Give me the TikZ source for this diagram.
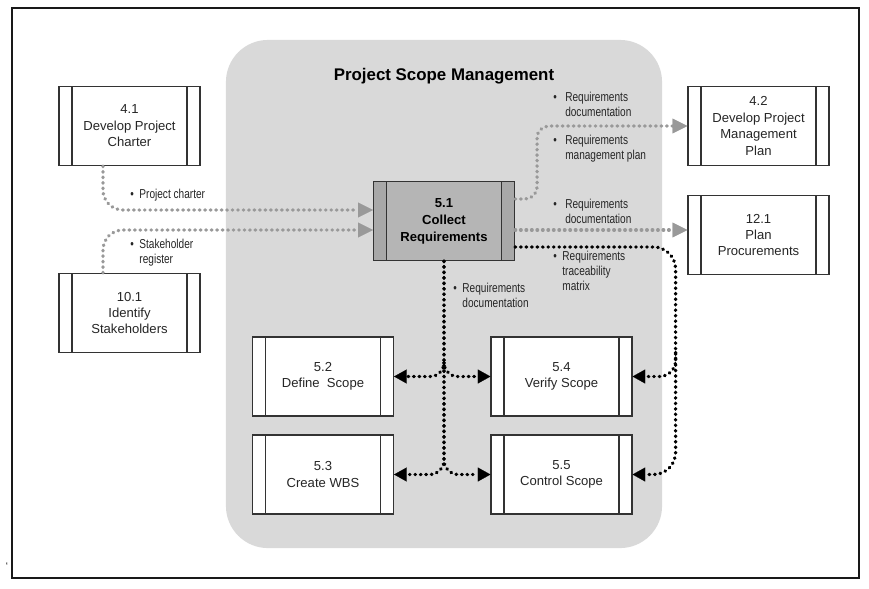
\documentclass[tikz,border=0pt]{standalone}
\usepackage{fontspec}
\setmainfont{Liberation Sans}
\newfontfamily\narrowsf[FakeStretch=0.78]{Liberation Sans}
\usetikzlibrary{calc,arrows.meta}
\newcommand{\blt}[2][4pt]{\begin{tabular}[t]{@{}l@{\hspace{#1}}l@{}}\textbullet & #2\end{tabular}}

\begin{document}
\begin{tikzpicture}[
  x=0.025cm, y=-0.025cm,
  bandcol/.store in=\bandcol, bandcol=white,
  proc/.style={draw=black!80, line width=0.8pt, fill=white, text=black!85,
    minimum width=3.525cm, minimum height=1.975cm, inner sep=0pt, align=center,
    font=\fontsize{9.3}{11.7}\selectfont,
    path picture={
      \fill[\bandcol] (path picture bounding box.north west) rectangle ([xshift=0.325cm]path picture bounding box.south west);
      \fill[\bandcol] (path picture bounding box.north east) rectangle ([xshift=-0.325cm]path picture bounding box.south east);
      \draw[black!80, line width=0.8pt]
        ([xshift=0.325cm]path picture bounding box.north west) -- ([xshift=0.325cm]path picture bounding box.south west)
        ([xshift=-0.325cm]path picture bounding box.north east) -- ([xshift=-0.325cm]path picture bounding box.south east);
    }},
  core/.style={proc, fill=black!29, bandcol=black!34, text=black,
    font=\bfseries\fontsize{9.3}{12}\selectfont},
  scopebg/.style={fill=black!15, rounded corners=1.05cm, minimum width=10.9cm, minimum height=12.7cm},
  lbl/.style={anchor=base west, inner sep=0pt, text=black!85, font=\narrowsf\fontsize{9.2}{10.9}\selectfont},
  grayflow/.style={draw=black!40, line width=2.4pt, line cap=round, dash pattern=on 0.4pt off 3.5pt,
    -{Triangle[length=10.5pt,width=10.5pt,line width=0.1pt]}},
  blackflow/.style={draw=black, line width=2.4pt, line cap=round, dash pattern=on 0.4pt off 3.5pt,
    rounded corners=0.4cm, -{Triangle[length=9pt,width=10pt,line width=0.1pt]}}
]
\useasboundingbox (0,0) rectangle (869,588);
\fill[white] (0,0) rectangle (869,588);
\draw[line width=1.2pt, black!90] (12,8) rectangle (859,578);
\node[inner sep=0pt, font=\fontsize{7}{7}\selectfont] (tick) at (7,566) {`};

\node[scopebg] (scope) at (444,294) {};
\node[font=\bfseries\fontsize{12}{14}\selectfont] (title) at (444,76) {Project Scope Management};

\node[proc] (n41) at (129.5,126) {4.1\\Develop Project\\Charter};
\node[proc] (n101) at (129.5,313) {10.1\\Identify\\Stakeholders};
\node[core] (n51) at (444,221) {5.1\\Collect\\Requirements};
\node[proc] (n42) at (758.5,126) {4.2\\Develop Project\\Management\\Plan};
\node[proc] (n121) at (758.5,235) {12.1\\Plan\\Procurements};
\node[proc] (n52) at (323,376.5) {5.2\\Define~ Scope};
\node[proc] (n53) at (323,474.5) {5.3\\Create WBS};
\node[proc] (n54) at (561.5,376.5) {5.4\\Verify Scope};
\node[proc] (n55) at (561.5,474.5) {5.5\\Control Scope};

\node[lbl] (lcharter) at (130,198) {\blt{Project charter}};
\node[lbl] (lstake) at (130,248) {\blt{Stakeholder\\ & register}};
\node[lbl] (ldoc42) at (553,101) {\blt[6pt]{Requirements\\ & documentation}};
\node[lbl] (lplan42) at (553,144) {\blt[6pt]{Requirements\\ & management plan}};
\node[lbl] (ldoc121) at (553,208) {\blt[6pt]{Requirements\\ & documentation}};
\node[lbl] (ltrace) at (553,260) {\blt[4pt]{Requirements\\ & traceability\\ & matrix}};
\node[lbl] (ldocdn) at (453,292) {\blt{Requirements\\ & documentation}};

\draw[grayflow, rounded corners=0.5cm] ($(n41.south)+(-26.5,0)$) |- ($(n51.west)+(0,-11)$);
\draw[grayflow, rounded corners=0.5cm] ($(n101.north)+(-26.5,0)$) |- ($(n51.west)+(0,9)$);
\draw[grayflow, rounded corners=0.3cm] ($(n51.east)+(0,-22)$) -- ++(22,0) |- (n42.west);
\draw[grayflow] ($(n51.east)+(0,9)$) coordinate (o121) -- (o121 -| n121.west);

\coordinate (rc) at ($(n55.east)+(43,0)$);
\draw[blackflow, rounded corners=0.55cm] ($(n51.east)+(0,26)$) -| (rc) -- (n55.east);
\draw[blackflow] ($(n54.east)+(43,-24)$) |- (n54.east);
\draw[blackflow, rounded corners=0.35cm] (n51.south) |- (n53.east);
\draw[blackflow, rounded corners=0.35cm] (n51.south) |- (n55.west);
\draw[blackflow, rounded corners=0.35cm] ($(n51.south)+(0,102)$) coordinate (dj) |- (n52.east);
\draw[blackflow, rounded corners=0.35cm] (dj) |- (n54.west);
\end{tikzpicture}
\end{document}
